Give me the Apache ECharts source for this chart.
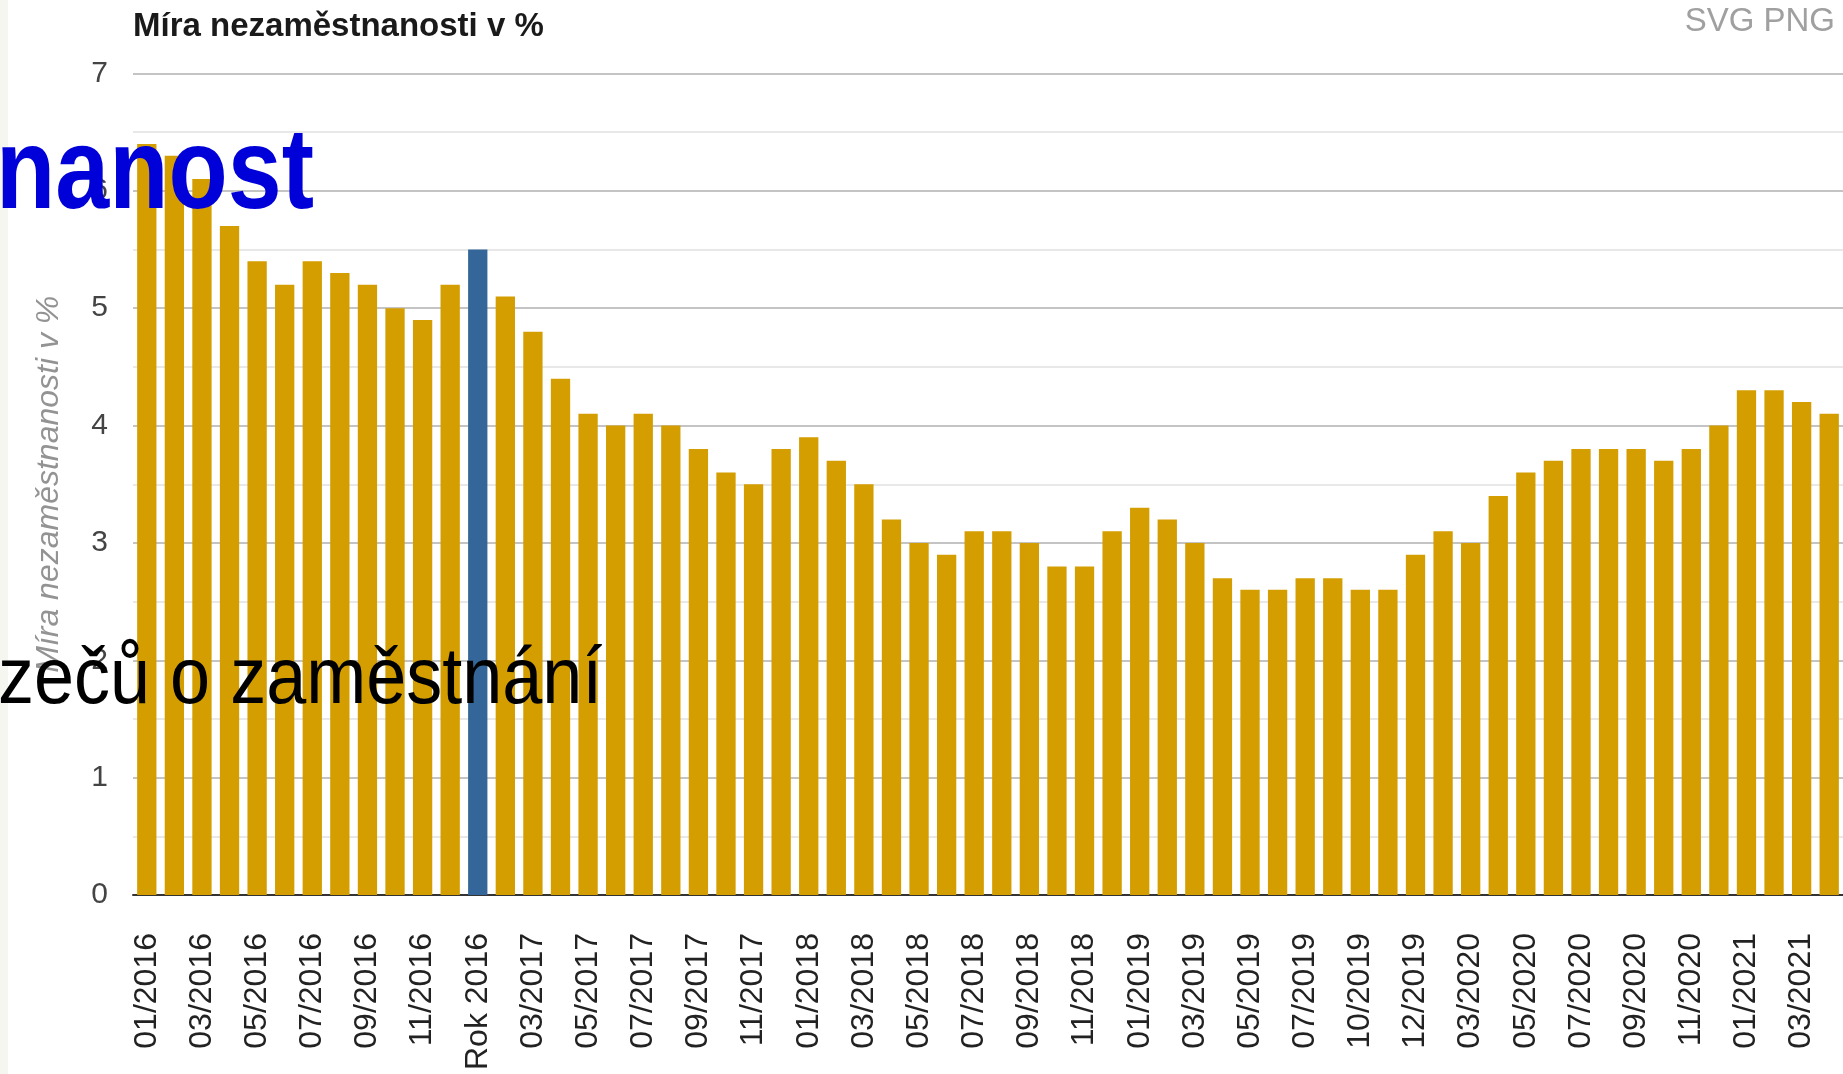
<!DOCTYPE html>
<html>
<head>
<meta charset="utf-8">
<script src="https://cdn.jsdelivr.net/npm/echarts@6/dist/echarts.min.js"></script>
<style>
  html, body { margin: 0; padding: 0; background: #fff; }
  #chart { width: 1843px; height: 1074px; }
</style>
</head>
<body>
<div id="chart"></div>
<script>
// mesíce (každý druhý popisek je skrytý)
const months = [
  '01/2016', '02/2016', '03/2016', '04/2016', '05/2016', '06/2016',
  '07/2016', '08/2016', '09/2016', '10/2016', '11/2016', '12/2016',
  'Rok 2016',
  '02/2017', '03/2017', '04/2017', '05/2017', '06/2017', '07/2017',
  '08/2017', '09/2017', '10/2017', '11/2017', '12/2017',
  '01/2018', '02/2018', '03/2018', '04/2018', '05/2018', '06/2018',
  '07/2018', '08/2018', '09/2018', '10/2018', '11/2018', '12/2018',
  '01/2019', '02/2019', '03/2019', '04/2019', '05/2019', '06/2019',
  '07/2019', '09/2019', '10/2019', '11/2019', '12/2019',
  '02/2020', '03/2020', '04/2020', '05/2020', '06/2020', '07/2020',
  '08/2020', '09/2020', '10/2020', '11/2020', '12/2020',
  '01/2021', '02/2021', '03/2021', '04/2021'
]

const rate = [
  6.4, 6.3, 6.1, 5.7, 5.4, 5.2, 5.4, 5.3, 5.2, 5.0, 4.9, 5.2,
  5.5,
  5.1, 4.8, 4.4, 4.1, 4.0, 4.1, 4.0, 3.8, 3.6, 3.5, 3.8,
  3.9, 3.7, 3.5, 3.2, 3.0, 2.9, 3.1, 3.1, 3.0, 2.8, 2.8, 3.1,
  3.3, 3.2, 3.0, 2.7, 2.6, 2.6, 2.7, 2.7, 2.6, 2.6, 2.9,
  3.1, 3.0, 3.4, 3.6, 3.7, 3.8, 3.8, 3.8, 3.7, 3.8, 4.0,
  4.3, 4.3, 4.2, 4.1
]

const yTicks = [0, 1, 2, 3, 4, 5, 6, 7]
const yearBar = 'Rok 2016'

const font = 'Liberation Sans'
const chart = echarts.init(document.getElementById('chart'))

const option = {
  animation: false,
  backgroundColor: '#fff',
  title: {
    text: 'Míra nezaměstnanosti v %',
    left: 133,
    top: 10,
    padding: 0,
    textStyle: {
      fontFamily: font,
      fontSize: 33,
      fontWeight: 'bold',
      color: '#1a1a1a'
    }
  },
  grid: {
    left: 133,
    right: -6,
    top: 73.5,
    bottom: 179
  },
  xAxis: {
    type: 'category',
    data: months,
    axisLine: {
      lineStyle: { color: '#333', width: 2 }
    },
    axisTick: { show: false },
    axisLabel: {
      interval: 1,
      rotate: 90,
      margin: 38,
      fontFamily: font,
      fontSize: 32,
      color: '#222'
    }
  },
  yAxis: {
    type: 'value',
    min: yTicks[0],
    max: yTicks[yTicks.length - 1],
    interval: 1,
    name: 'Míra nezaměstnanosti v %',
    nameLocation: 'middle',
    nameGap: 68,
    nameTextStyle: {
      fontFamily: font,
      fontSize: 32,
      fontStyle: 'italic',
      color: '#939393'
    },
    axisLine: { show: false },
    axisTick: { show: false },
    axisLabel: {
      margin: 25,
      fontFamily: font,
      fontSize: 30,
      color: '#444'
    },
    splitLine: {
      lineStyle: { color: '#c4c4c4', width: 2 }
    },
    minorTick: { show: false, splitNumber: 2 },
    minorSplitLine: {
      show: true,
      lineStyle: { color: '#e8e8e8', width: 2 }
    }
  },
  series: [{
    type: 'bar',
    data: rate.map((v, i) => ({
      value: v,
      itemStyle: { color: months[i] === yearBar ? '#346699' : '#d49e00' }
    })),
    barCategoryGap: '30%'
  }],
  graphic: [
    {
      type: 'rect',
      left: 0,
      top: 0,
      z: 0,
      shape: { width: 8, height: 1074 },
      style: { fill: '#f6f6f1' }
    },
    {
      type: 'text',
      x: 1835,
      y: 5,
      z: 50,
      style: {
        text: 'SVG PNG',
        font: '33px "Liberation Sans"',
        fill: '#a0a0a0',
        align: 'right',
        verticalAlign: 'top'
      }
    },
    {
      type: 'text',
      x: -4,
      y: 234,
      scaleY: 1.18,
      z: 100,
      style: {
        text: 'nanost',
        font: 'bold 97px "Liberation Sans"',
        fill: '#0000d8',
        align: 'left',
        verticalAlign: 'bottom'
      }
    },
    {
      type: 'text',
      x: -2,
      y: 721,
      scaleY: 1.11,
      z: 100,
      style: {
        text: 'zečů o zaměstnání',
        font: '72px "Liberation Sans"',
        fill: '#000',
        align: 'left',
        verticalAlign: 'bottom'
      }
    }
  ]
}

chart.setOption(option)
</script>
</body>
</html>
